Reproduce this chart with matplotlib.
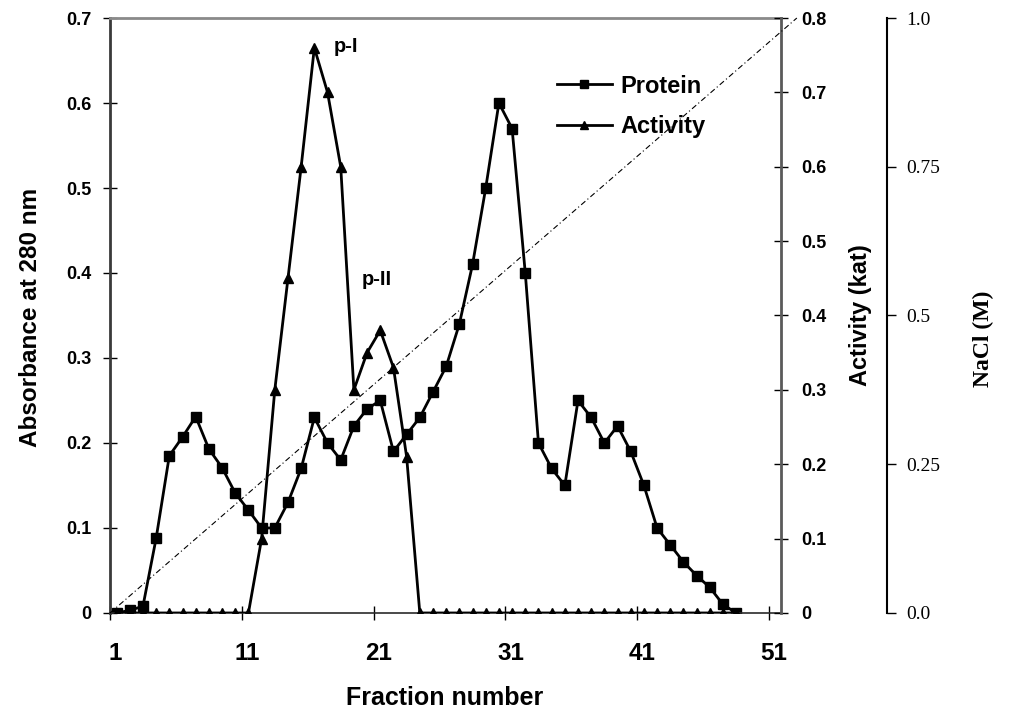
import matplotlib
matplotlib.use("Agg")
import matplotlib.pyplot as plt
from matplotlib.transforms import ScaledTranslation

# fraction data
fractions = list(range(1, 49))
protein = [0.0, 0.003, 0.008, 0.088, 0.185, 0.207, 0.231, 0.193, 0.171, 0.141,
           0.121, 0.10, 0.10, 0.13, 0.17, 0.23, 0.20, 0.18, 0.22, 0.24,
           0.25, 0.19, 0.21, 0.23, 0.26, 0.29, 0.34, 0.41, 0.50, 0.60,
           0.57, 0.40, 0.20, 0.17, 0.15, 0.25, 0.23, 0.20, 0.22, 0.19,
           0.15, 0.10, 0.08, 0.06, 0.044, 0.03, 0.01, 0.0]
activity = [0, 0, 0, 0, 0, 0, 0, 0, 0, 0,
            0, 0.10, 0.30, 0.45, 0.60, 0.76, 0.70, 0.60, 0.30, 0.35,
            0.38, 0.33, 0.21, 0, 0, 0, 0, 0, 0, 0,
            0, 0, 0, 0, 0, 0, 0, 0, 0, 0,
            0, 0, 0, 0, 0, 0, 0, 0]
# NaCl gradient line
nacl_fraction = [0.5, 52.6]
nacl_conc = [0.0, 1.0]

x_ticks = [0.5, 10.5, 20.5, 30.5, 40.5, 50.5]
x_tick_labels = ['1', '11', '21', '31', '41', '51']
abs_ticks = [0, 0.1, 0.2, 0.3, 0.4, 0.5, 0.6, 0.7]
abs_tick_labels = ['0', '0.1', '0.2', '0.3', '0.4', '0.5', '0.6', '0.7']
act_ticks = [0, 0.1, 0.2, 0.3, 0.4, 0.5, 0.6, 0.7, 0.8]
act_tick_labels = ['0', '0.1', '0.2', '0.3', '0.4', '0.5', '0.6', '0.7', '0.8']
nacl_ticks = [0, 0.25, 0.5, 0.75, 1.0]
nacl_tick_labels = ['0.0', '0.25', '0.5', '0.75', '1.0']

plt.rcParams['font.family'] = ['Liberation Sans', 'DejaVu Sans']
serif = ['Liberation Serif', 'DejaVu Serif']

fig = plt.figure(figsize=(10.13, 7.15), dpi=100)
ax = fig.add_axes([0.1086, 0.1427, 0.6624, 0.8321])
ax2 = ax.twinx()
ax3 = ax.twinx()

ax.plot(fractions, protein, color='black', lw=2.0, marker='s', ms=7.5, label='Protein')
ax2.plot(fractions, activity, color='black', lw=2.0, marker='^', ms=7.5, label='Activity')
ax3.plot(nacl_fraction, nacl_conc, color='black', lw=0.8, ls=(0, (5, 2.5, 1, 2.5)), clip_on=False)

ax.set_xlim(0.5, 51.4)
ax.set_ylim(0, 0.7)
ax2.set_ylim(0, 0.8)
ax3.set_ylim(0, 1.0)

# spines
for a in (ax, ax2, ax3):
    for s in a.spines.values():
        s.set_visible(False)
ax.spines['left'].set_visible(True)
ax.spines['left'].set_color('#3a3a3a')
ax.spines['left'].set_linewidth(2)
ax.spines['bottom'].set_visible(True)
ax.spines['bottom'].set_color('#2a2a2a')
ax.spines['bottom'].set_linewidth(1.2)
ax.spines['top'].set_visible(True)
ax.spines['top'].set_color('#8a8a8a')
ax.spines['top'].set_linewidth(2)
ax2.spines['right'].set_visible(True)
ax2.spines['right'].set_color('#5a5a5a')
ax2.spines['right'].set_linewidth(2)
ax3.spines['right'].set_visible(True)
ax3.spines['right'].set_position(('axes', 1.158))
ax3.spines['right'].set_color('black')
ax3.spines['right'].set_linewidth(1.5)

ax.set_xticks(x_ticks)
ax.set_xticklabels(x_tick_labels, fontsize=17.5, fontweight='bold')
ax.tick_params(axis='x', direction='inout', length=10, width=1, pad=16, top=False)
offset = ScaledTranslation(5 / 100, 0, fig.dpi_scale_trans)
for lab in ax.get_xticklabels():
    lab.set_transform(lab.get_transform() + offset)

ax.set_yticks(abs_ticks)
ax.set_yticklabels(abs_tick_labels, fontsize=13, fontweight='bold')
ax.tick_params(axis='y', direction='inout', length=10, width=1, pad=8.5)

ax2.set_yticks(act_ticks)
ax2.set_yticklabels(act_tick_labels, fontsize=13, fontweight='bold')
ax2.tick_params(axis='y', direction='inout', length=10, width=1, pad=9.4)

ax3.set_yticks(nacl_ticks)
ax3.set_yticklabels(nacl_tick_labels, fontsize=14, family=serif)
ax3.tick_params(axis='y', direction='out', length=6.5, width=1, pad=7)

ax.set_xlabel('Fraction number', fontsize=18, fontweight='bold')
ax.xaxis.set_label_coords(0.499, -0.1227)
ax.set_ylabel('Absorbance at 280 nm', fontsize=17.5, fontweight='bold', va='center')
ax.yaxis.set_label_coords(-0.119, 0.496)
ax2.set_ylabel('Activity (kat)', fontsize=17, fontweight='bold', va='center', rotation=90)
ax2.yaxis.set_label_coords(1.119, 0.5)
ax3.set_ylabel('NaCl (M)', fontsize=17, fontweight='bold', family=serif, va='center', rotation=90)
ax3.yaxis.set_label_coords(1.301, 0.46)

ax2.text(17.5, 0.762, 'p-I', fontsize=14.5, fontweight='bold', va='center', ha='left')
ax2.text(19.6, 0.448, 'p-II', fontsize=14.5, fontweight='bold', va='center', ha='left')

h1, l1 = ax.get_legend_handles_labels()
h2, l2 = ax2.get_legend_handles_labels()
leg = ax3.legend(h1 + h2, l1 + l2, loc='upper left', bbox_to_anchor=(0.666, 0.905),
                 frameon=False, prop=dict(size=17, weight='bold'),
                 handlelength=2.33, handletextpad=0.34, labelspacing=0.75,
                 borderpad=0, borderaxespad=0, markerscale=0.75)

fig.savefig('out.png', dpi=100)
